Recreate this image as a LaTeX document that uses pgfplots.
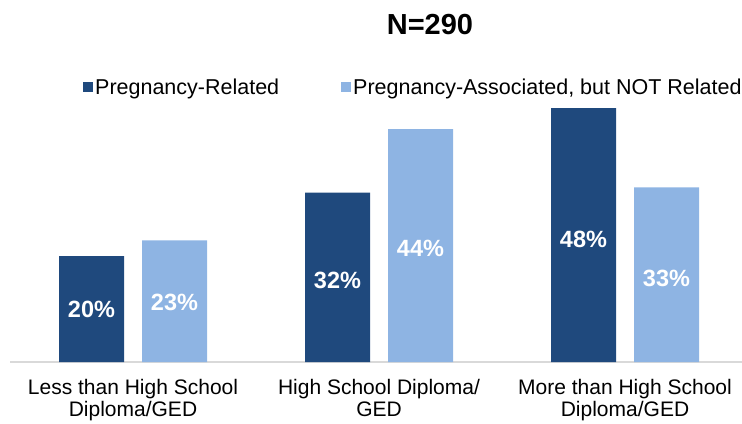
\documentclass[border=0pt]{standalone}
\usepackage{fontspec}
\setmainfont{Liberation Sans}
\usepackage{pgfplots}
\pgfplotsset{compat=1.18}
\usepackage{pgfplotstable}
\definecolor{darkblue}{HTML}{1F497D}
\definecolor{lightblue}{HTML}{8EB4E3}
\definecolor{axisgray}{HTML}{D9D9D9}
\pgfplotsset{sq legend/.style={legend image code/.code={\fill[##1] (0bp,-5bp) rectangle (10bp,5bp);}}}

% y = bar value (%), mid = height at which its label sits
\pgfplotstableread{
x y mid
0 20 10
1 32 15.4
2 48 23.2
}\related
\pgfplotstableread{
x y mid
0 23 11.3
1 44 21.4
2 33 15.8
}\associated

\begin{document}
\begin{tikzpicture}
\useasboundingbox (0,0) rectangle (742bp,424bp);
\begin{axis}[
  at={(10bp,62bp)}, anchor=south west,
  scale only axis, width=732bp, height=291bp,
  xmin=-0.5, xmax=2.4756, ymin=0, ymax=55,
  axis x line*=bottom, axis y line=none,
  x axis line style={draw=axisgray, line width=2bp},
  xtick={0,1,2}, major tick length=0pt,
  xticklabels={{Less than High School\\Diploma/GED},{High School Diploma/\\GED},{More than High School\\Diploma/GED}},
  xticklabel style={align=center, font=\fontsize{21bp}{22bp}\selectfont, text=black, yshift=-14bp},
  ytick=\empty,
  /pgf/number format/assume math mode=true,
  legend style={at={(0.0997,0.945)}, anchor=west, draw=none, fill=none, inner sep=0pt,
    font=\fontsize{21.5bp}{24bp}\selectfont, legend columns=2,
    /tikz/every even column/.append style={column sep=60bp}, nodes={inner sep=2bp}},
  clip=false,
]
\addplot[ybar, bar width=65bp, bar shift=-41.5bp, fill=darkblue, draw=none, sq legend] table[x=x,y=y]{\related};
\addlegendentry{Pregnancy-Related}
\addplot[ybar, bar width=65bp, bar shift=41.5bp, fill=lightblue, draw=none, sq legend] table[x=x,y=y]{\associated};
\addlegendentry{Pregnancy-Associated, but NOT Related}

\addplot[only marks, mark=none, forget plot,
  point meta=explicit,
  nodes near coords={\pgfmathprintnumber{\pgfplotspointmeta}\%},
  every node near coord/.append style={anchor=center, xshift=-41.5bp, text=white, font=\bfseries\fontsize{23.5bp}{24bp}\selectfont}]
  table[x=x,y=mid,meta=y]{\related};
\addplot[only marks, mark=none, forget plot,
  point meta=explicit,
  nodes near coords={\pgfmathprintnumber{\pgfplotspointmeta}\%},
  every node near coord/.append style={anchor=center, xshift=41.5bp, text=white, font=\bfseries\fontsize{23.5bp}{24bp}\selectfont}]
  table[x=x,y=mid,meta=y]{\associated};
\end{axis}
\node[anchor=base, font=\bfseries\fontsize{29bp}{32bp}\selectfont] at (430bp,389bp) {N=290};
\end{tikzpicture}
\end{document}
